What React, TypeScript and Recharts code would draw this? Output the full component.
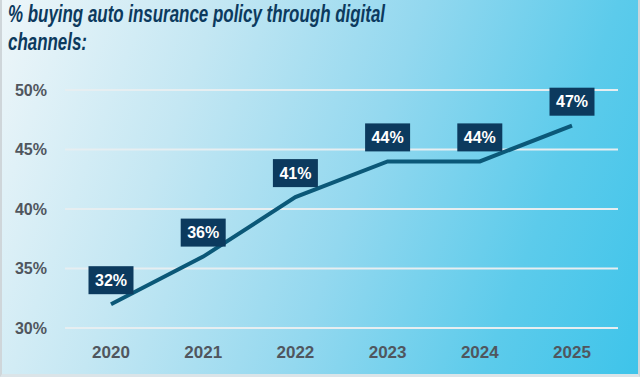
import { LineChart, Line, XAxis, YAxis, CartesianGrid } from 'recharts'

const years = ['2020', '2021', '2022', '2023', '2024', '2025']
const digitalShare = [32, 36, 41, 44, 44, 47]
const yTicks = [30, 35, 40, 45, 50]
const titleLines = ['% buying auto insurance policy through digital', 'channels:']

const chartData = years.map((year, i) => ({ year, share: digitalShare[i] }))

const NAVY = '#0c3a5e'
const LINE = '#0b5878'
const TICK = '#50565e'
const FONT = "'Liberation Sans', Arial, sans-serif"

// dark box with white percentage, sitting just above each point
function PointLabel(props: any) {
  const { x, y, value } = props
  if (x == null || y == null) return null
  const w = 45
  const h = 28
  return (
    <g>
      <rect x={x - w / 2} y={y - h - 10} width={w} height={h} fill={NAVY} />
      <text
        x={x}
        y={y - 10 - h / 2}
        textAnchor="middle"
        dominantBaseline="central"
        fill="#fff"
        fontSize={16}
        fontWeight={700}
        fontFamily={FONT}
      >
        {value}%
      </text>
    </g>
  )
}

export default function App() {
  return (
    <div
      style={{
        position: 'absolute',
        left: 0,
        top: 0,
        width: 640,
        height: 377,
        overflow: 'hidden',
        boxSizing: 'border-box',
        borderLeft: '2px solid #cfd6da',
        borderRight: '2px solid #cfd6da',
        borderBottom: '3px solid #dbe4e8',
        background: 'linear-gradient(110deg, #eef6f9 0%, #c4e7f3 28%, #93d8ef 55%, #5ccbeb 80%, #3ec4ea 100%)',
      }}
    >
      {/* title is condensed to the reference width with textLength */}
      <svg width={640} height={60} style={{ position: 'absolute', left: -2, top: 0 }}>
        <text
          x={8}
          y={22}
          textLength={377}
          lengthAdjust="spacingAndGlyphs"
          fill={NAVY}
          fontFamily={FONT}
          fontWeight={700}
          fontStyle="italic"
          fontSize={24}
        >
          {titleLines[0]}
        </text>
        <text
          x={8}
          y={50}
          textLength={79}
          lengthAdjust="spacingAndGlyphs"
          fill={NAVY}
          fontFamily={FONT}
          fontWeight={700}
          fontStyle="italic"
          fontSize={24}
        >
          {titleLines[1]}
        </text>
      </svg>
      <LineChart
        width={640}
        height={377}
        data={chartData}
        margin={{ top: 90, right: 22, bottom: 0, left: 0 }}
        style={{ position: 'absolute', left: -2, top: 0 }}
      >
        <CartesianGrid vertical={false} stroke="#e6eef1" strokeWidth={2} />
        <XAxis
          dataKey="year"
          axisLine={false}
          tickLine={false}
          height={49}
          tickMargin={12}
          padding={{ left: 46, right: 46 }}
          tick={{ fill: TICK, fontSize: 17, fontWeight: 700, fontFamily: FONT }}
        />
        <YAxis
          domain={[30, 50]}
          ticks={yTicks}
          axisLine={false}
          tickLine={false}
          width={65}
          tickMargin={12}
          tickFormatter={(v) => `${v}%`}
          tick={{ fill: TICK, fontSize: 16, fontWeight: 700, fontFamily: FONT }}
        />
        <Line
          type="linear"
          dataKey="share"
          stroke={LINE}
          strokeWidth={4}
          dot={false}
          isAnimationActive={false}
          label={<PointLabel />}
        />
      </LineChart>
    </div>
  )
}
